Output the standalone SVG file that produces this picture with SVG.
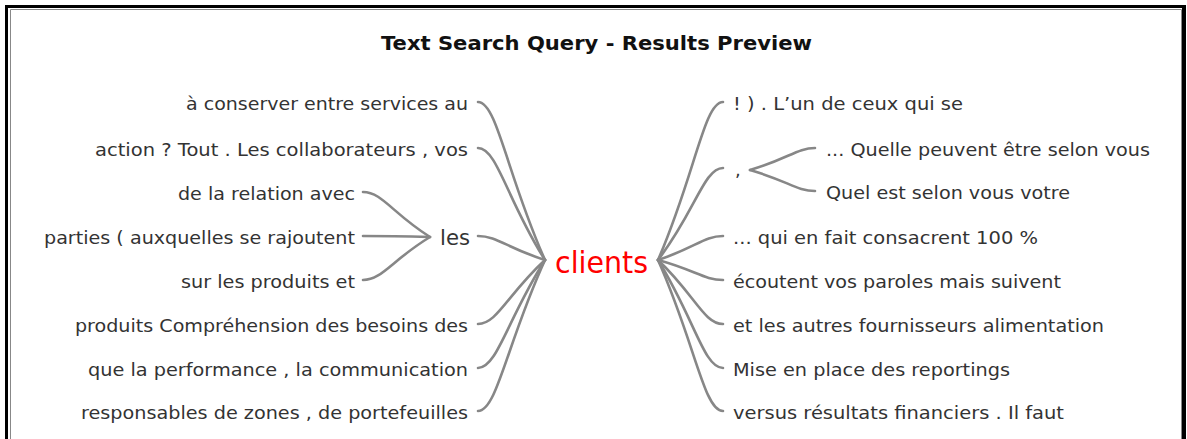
<svg xmlns="http://www.w3.org/2000/svg" width="1187" height="439" viewBox="0 0 1187 439">
<style>
.t{font-family:"DejaVu Sans","Liberation Sans",sans-serif;font-size:18px;fill:#333}
.l{text-anchor:end}
.title{font-family:"DejaVu Sans","Liberation Sans",sans-serif;font-size:20px;font-weight:bold;fill:#111;text-anchor:middle}
.c{fill:none;stroke:#878787;stroke-width:2.6;stroke-linecap:round}
</style>
<rect x="0" y="0" width="1187" height="439" fill="#fff"/>
<rect x="5" y="5" width="1181" height="450" fill="#000"/>
<rect x="8" y="8" width="1174" height="450" fill="#fff"/>
<path d="M10.5,460 V9.5 H1181.5 V460" fill="none" stroke="#888" stroke-width="1"/>
<text class="title" x="596.5" y="50" textLength="431" lengthAdjust="spacingAndGlyphs">Text Search Query - Results Preview</text>
<g id="connectors">
<path class="c" d="M478,102 C497,102 507,175 545,260"/>
<path class="c" d="M478,148 C497,148 507,200 545,260"/>
<path class="c" d="M478,236 C497,236 507,248 545,260"/>
<path class="c" d="M478,324 C497,324 507,295 545,260"/>
<path class="c" d="M478,368 C497,368 507,320 545,260"/>
<path class="c" d="M478,411 C497,411 507,343 545,260"/>
<path class="c" d="M363,192 C382,192 392,213 430,237"/>
<path class="c" d="M363,236 C382,236 392,236 430,237"/>
<path class="c" d="M363,280 C382,280 392,260 430,237"/>
<path class="c" d="M723,102 C704,102 695,175 658,260"/>
<path class="c" d="M723,168 C704,168 695,212 658,260"/>
<path class="c" d="M723,236 C704,236 695,248 658,260"/>
<path class="c" d="M723,280 C704,280 695,270 658,260"/>
<path class="c" d="M723,324 C704,324 695,295 658,260"/>
<path class="c" d="M723,368 C704,368 695,320 658,260"/>
<path class="c" d="M723,411 C704,411 695,343 658,260"/>
<path class="c" d="M815,148 C797,148 788,159 750,170"/>
<path class="c" d="M815,191 C797,191 788,181 750,170"/>
</g>
<g id="n-clients"><text x="555" y="273" font-family="DejaVu Sans,Liberation Sans,sans-serif" font-size="30" fill="#ff0000" textLength="93" lengthAdjust="spacingAndGlyphs">clients</text></g>
<g id="n-les"><text x="440" y="245" font-family="DejaVu Sans,Liberation Sans,sans-serif" font-size="21" fill="#333" textLength="30" lengthAdjust="spacingAndGlyphs">les</text></g>
<g id="n-l1"><text class="t l" x="468" y="110" textLength="282" lengthAdjust="spacingAndGlyphs">à conserver entre services au</text></g>
<g id="n-l2"><text class="t l" x="468" y="156" textLength="373" lengthAdjust="spacingAndGlyphs">action ? Tout . Les collaborateurs , vos</text></g>
<g id="n-l3"><text class="t l" x="355" y="200" textLength="177" lengthAdjust="spacingAndGlyphs">de la relation avec</text></g>
<g id="n-l4"><text class="t l" x="355" y="244" textLength="311" lengthAdjust="spacingAndGlyphs">parties ( auxquelles se rajoutent</text></g>
<g id="n-l5"><text class="t l" x="355" y="288" textLength="174" lengthAdjust="spacingAndGlyphs">sur les produits et</text></g>
<g id="n-l6"><text class="t l" x="468" y="332" textLength="393" lengthAdjust="spacingAndGlyphs">produits Compréhension des besoins des</text></g>
<g id="n-l7"><text class="t l" x="468" y="376" textLength="380" lengthAdjust="spacingAndGlyphs">que la performance , la communication</text></g>
<g id="n-l8"><text class="t l" x="468" y="419" textLength="387" lengthAdjust="spacingAndGlyphs">responsables de zones , de portefeuilles</text></g>
<g id="n-r1"><text class="t" x="733" y="110" textLength="230" lengthAdjust="spacingAndGlyphs">! ) . L’un de ceux qui se</text></g>
<g id="n-comma"><text class="t" x="735" y="176">,</text></g>
<g id="n-r2a"><text class="t" x="826" y="156" textLength="324" lengthAdjust="spacingAndGlyphs">... Quelle peuvent être selon vous</text></g>
<g id="n-r2b"><text class="t" x="826" y="199" textLength="244" lengthAdjust="spacingAndGlyphs">Quel est selon vous votre</text></g>
<g id="n-r3"><text class="t" x="733" y="244" textLength="305" lengthAdjust="spacingAndGlyphs">... qui en fait consacrent 100 %</text></g>
<g id="n-r4"><text class="t" x="733" y="288" textLength="328" lengthAdjust="spacingAndGlyphs">écoutent vos paroles mais suivent</text></g>
<g id="n-r5"><text class="t" x="733" y="332" textLength="371" lengthAdjust="spacingAndGlyphs">et les autres fournisseurs alimentation</text></g>
<g id="n-r6"><text class="t" x="733" y="376" textLength="277" lengthAdjust="spacingAndGlyphs">Mise en place des reportings</text></g>
<g id="n-r7"><text class="t" x="733" y="419" textLength="331" lengthAdjust="spacingAndGlyphs">versus résultats financiers . Il faut</text></g>
</svg>
